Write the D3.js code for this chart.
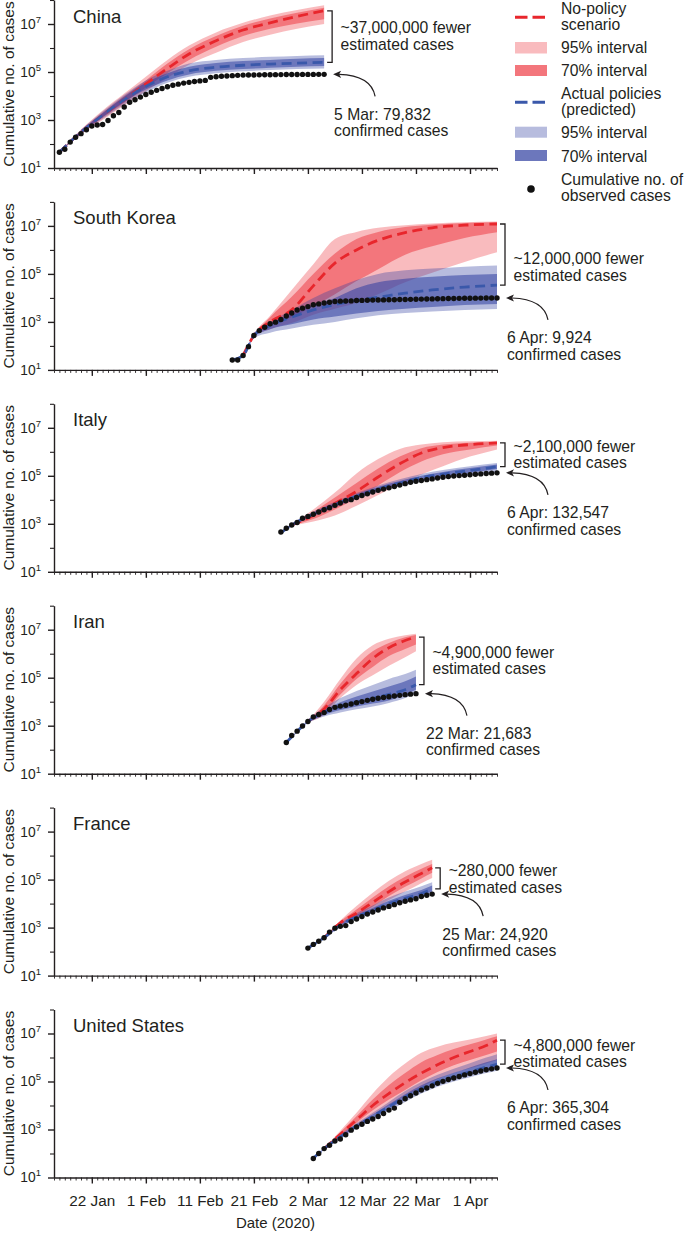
<!DOCTYPE html>
<html><head><meta charset="utf-8">
<script src="https://cdn.jsdelivr.net/npm/d3@7"></script>
<style>
body{margin:0;background:#fff}
svg{display:block}
text{font-family:"Liberation Sans",Arial,Helvetica,sans-serif;fill:#231f20}
</style>
</head><body>
<svg id="chart" width="685" height="1233"></svg>
<script>
// ---------------- DATA ----------------
const X_START = "2020-01-15", X_END = "2020-04-06";
const majorTickDates = ["2020-01-22","2020-02-01","2020-02-11","2020-02-21","2020-03-02","2020-03-12","2020-03-22","2020-04-01"];
const majorTickLabels = ["22 Jan","1 Feb","11 Feb","21 Feb","2 Mar","12 Mar","22 Mar","1 Apr"];
const yMajorTicks = [1e1, 1e3, 1e5, 1e7];
const yMinorTicks = [1e2, 1e4, 1e6, 1e8];
const countries = ["China","South Korea","Italy","Iran","France","United States"];
const fewerLabels = ["~37,000,000 fewer","~12,000,000 fewer","~2,100,000 fewer","~4,900,000 fewer","~280,000 fewer","~4,800,000 fewer"];
const confirmedLabels = ["5 Mar: 79,832","6 Apr: 9,924","6 Apr: 132,547","22 Mar: 21,683","25 Mar: 24,920","6 Apr: 365,304"];

// model rows: [date, mean, lo70, hi70, lo95, hi95]
const chinaNoPolicy = [
 ["2020-01-16",45,45,45,45,45],
 ["2020-01-20",316,282,355,251,398],
 ["2020-01-24",1580,1260,2000,1000,2510],
 ["2020-01-28",7080,5250,10000,3980,12600],
 ["2020-02-01",31600,22400,44700,15800,63100],
 ["2020-02-05",141000,89100,224000,56200,316000],
 ["2020-02-09",562000,316000,891000,200000,1260000],
 ["2020-02-14",2000000,1120000,3160000,631000,4470000],
 ["2020-02-19",5620000,3160000,8510000,1780000,11200000],
 ["2020-02-24",11200000,6310000,17000000,3550000,22400000],
 ["2020-02-29",20900000,10500000,29500000,6310000,38000000],
 ["2020-03-05",35500000,15800000,47900000,10000000,60300000]
];
const chinaActual = [
 ["2020-01-16",45,45,45,45,45],
 ["2020-01-20",316,288,347,263,380],
 ["2020-01-24",1580,1320,1910,1120,2240],
 ["2020-01-28",7080,5620,9330,4470,11200],
 ["2020-02-01",25100,18600,35500,14100,44700],
 ["2020-02-05",63100,44700,89100,35500,112000],
 ["2020-02-09",112000,79400,166000,63100,224000],
 ["2020-02-14",158000,112000,240000,89100,316000],
 ["2020-02-19",191000,132000,288000,107000,380000],
 ["2020-02-24",214000,151000,316000,120000,427000],
 ["2020-02-29",234000,166000,355000,132000,468000],
 ["2020-03-05",251000,178000,380000,141000,501000]
];
const chinaObsStart = "2020-01-16";
const chinaObserved = [45,60,120,190,270,390,560,620,650,950,1500,2050,3500,5500,7000,9000,
 11500,14300,17200,20400,24300,28000,31100,34500,37100,40100,42600,44600,59800,63800,66400,68500,70500,72400,74100,74500,75400,76200,76900,77100,77600,78000,78400,78800,79200,
 79300,79400,79500,79700,79832];

const koreaNoPolicy = [
 ["2020-02-19",40,40,40,40,40],
 ["2020-02-21",270,250,280,240,320],
 ["2020-02-24",1000,710,1580,500,1820],
 ["2020-02-28",3160,1580,11200,890,21400],
 ["2020-03-03",31600,4470,100000,2000,251000],
 ["2020-03-07",282000,14100,708000,3550,2820000],
 ["2020-03-11",1000000,50100,2820000,6310,5620000],
 ["2020-03-15",2510000,158000,5620000,14100,8320000],
 ["2020-03-20",5250000,631000,8910000,44700,10700000],
 ["2020-03-25",8320000,1410000,11200000,112000,12600000],
 ["2020-03-31",10700000,3160000,13200000,316000,14100000],
 ["2020-04-06",12000000,5500000,14100000,794000,15100000]
];
const koreaActual = [
 ["2020-02-17",26,26,27,25,28],
 ["2020-02-19",40,35,45,32,50],
 ["2020-02-21",270,240,295,214,316],
 ["2020-02-24",708,500,832,355,1000],
 ["2020-02-28",1580,794,2240,525,3160],
 ["2020-03-03",3160,1260,5010,759,10000],
 ["2020-03-07",5250,1660,10000,1000,25100],
 ["2020-03-11",7940,2240,25100,1410,56200],
 ["2020-03-15",10700,2820,44700,1910,100000],
 ["2020-03-20",15800,3550,63100,2340,141000],
 ["2020-03-25",21400,4170,75900,2690,166000],
 ["2020-03-31",28200,5010,89100,3160,200000],
 ["2020-04-06",33900,5620,100000,3470,224000]
];
const koreaObsStart = "2020-02-17";
const koreaObserved = [26,26,40,93,270,433,602,833,977,1261,1766,2337,3150,
 3736,4335,5186,5621,6088,6593,7041,7314,7478,7513,7755,7869,7979,8086,8162,8236,8320,8413,8565,8600,8700,8800,8900,9000,9100,9200,9300,9400,9480,9560,9620,
 9700,9760,9800,9850,9890,9924];

const italyNoPolicy = [
 ["2020-02-28",891,871,912,832,955],
 ["2020-03-03",2240,1580,3160,1260,3980],
 ["2020-03-07",7080,3980,12600,2240,20000],
 ["2020-03-11",22400,11200,50100,5620,126000],
 ["2020-03-15",89100,39800,200000,15800,501000],
 ["2020-03-19",316000,141000,631000,44700,1320000],
 ["2020-03-23",891000,398000,1410000,112000,2000000],
 ["2020-03-27",1510000,794000,2000000,251000,2510000],
 ["2020-04-01",2000000,1260000,2400000,631000,2750000],
 ["2020-04-06",2340000,1820000,2630000,1260000,2880000]
];
const italyActual = [
 ["2020-02-26",417,398,437,380,457],
 ["2020-02-28",891,832,955,794,1000],
 ["2020-03-03",2510,2240,2820,2000,3160],
 ["2020-03-07",6310,5500,7240,4790,8320],
 ["2020-03-11",14100,12000,16600,10500,19100],
 ["2020-03-15",28200,24000,33900,20900,39800],
 ["2020-03-19",50100,41700,60300,35500,72400],
 ["2020-03-23",83200,67600,100000,57500,120000],
 ["2020-03-27",117000,95500,145000,79400,174000],
 ["2020-04-01",166000,132000,209000,107000,251000],
 ["2020-04-06",240000,191000,295000,141000,339000]
];
const italyObsStart = "2020-02-26";
const italyObserved = [453,655,888,1128,
 1694,2036,2502,3089,3858,4636,5883,7375,9172,10149,12462,15113,17660,21157,24747,27980,31506,35713,41035,47021,53578,59138,63927,69176,74386,80589,86498,92472,97689,101739,105792,
 110574,115242,119827,124632,128948,132547];

const iranNoPolicy = [
 ["2020-03-02",1510,1480,1550,1450,1580],
 ["2020-03-05",5010,3550,7080,2820,10000],
 ["2020-03-08",31600,20000,56200,14100,89100],
 ["2020-03-11",148000,89100,316000,50100,631000],
 ["2020-03-14",631000,282000,1260000,126000,2240000],
 ["2020-03-17",1780000,794000,2820000,316000,4170000],
 ["2020-03-20",3550000,1580000,4790000,708000,5890000],
 ["2020-03-22",4950000,2400000,6030000,1260000,6760000]
];
const iranActual = [
 ["2020-02-27",200,195,204,191,209],
 ["2020-02-29",575,550,603,525,631],
 ["2020-03-02",1510,1380,1660,1260,1780],
 ["2020-03-05",3550,2820,4470,2400,5620],
 ["2020-03-08",6310,4470,9550,3550,14100],
 ["2020-03-11",9550,6310,16600,4790,28200],
 ["2020-03-14",13500,8320,26900,6310,50100],
 ["2020-03-17",20000,11200,42700,8910,89100],
 ["2020-03-20",31600,20000,70800,14100,141000],
 ["2020-03-22",51300,31600,112000,22900,214000]
];
const iranObsStart = "2020-02-27";
const iranObserved = [200,388,593,978,1501,2336,2922,3513,4747,5823,6566,7161,8042,9000,10075,11364,12729,13938,14991,16169,17361,18407,19644,20610,21683];

const franceNoPolicy = [
 ["2020-03-05",380,372,389,363,398],
 ["2020-03-08",1580,1410,1780,1260,2000],
 ["2020-03-11",3980,3020,5620,2510,7940],
 ["2020-03-14",11200,7590,17800,5620,28200],
 ["2020-03-17",31600,20900,52500,14100,89100],
 ["2020-03-20",79400,50100,132000,31600,224000],
 ["2020-03-23",178000,112000,282000,70800,447000],
 ["2020-03-25",309000,191000,447000,117000,676000]
];
const franceActual = [
 ["2020-03-02",141,138,145,135,148],
 ["2020-03-05",380,363,398,347,417],
 ["2020-03-08",1260,1150,1380,1070,1510],
 ["2020-03-11",2820,2510,3310,2240,3980],
 ["2020-03-14",5250,4470,6610,3980,8320],
 ["2020-03-17",10000,8320,13200,7080,17800],
 ["2020-03-20",16600,13500,22900,11200,31600],
 ["2020-03-23",26300,21400,37200,17800,52500],
 ["2020-03-25",40700,31600,56200,26300,77600]
];
const franceObsStart = "2020-03-02";
const franceObserved = [140,200,270,380,650,950,1130,1210,1780,2280,2870,3660,4480,5380,6630,7650,9040,10870,12610,14280,16020,19860,22300,24920];

const usNoPolicy = [
 ["2020-03-05",158,155,162,151,166],
 ["2020-03-08",631,525,759,447,891],
 ["2020-03-11",2510,1910,3550,1410,5010],
 ["2020-03-14",10000,6310,17800,3980,31600],
 ["2020-03-17",31600,17800,70800,10000,158000],
 ["2020-03-20",89100,44700,224000,25100,562000],
 ["2020-03-23",224000,112000,631000,56200,1580000],
 ["2020-03-26",501000,251000,1260000,126000,2820000],
 ["2020-03-29",1000000,479000,2240000,224000,4170000],
 ["2020-04-01",1780000,794000,3550000,355000,5620000],
 ["2020-04-04",3160000,1260000,5620000,562000,7940000],
 ["2020-04-06",5250000,1780000,7590000,794000,10000000]
];
const usActual = [
 ["2020-03-03",63,63,63,63,63],
 ["2020-03-05",158,148,166,141,178],
 ["2020-03-08",501,447,562,398,631],
 ["2020-03-11",1410,1230,1620,1070,1860],
 ["2020-03-14",3550,2950,4170,2510,5010],
 ["2020-03-17",8910,7240,11200,6030,14100],
 ["2020-03-20",22400,17800,29500,14100,39800],
 ["2020-03-23",50100,39800,69200,31600,95500],
 ["2020-03-26",95500,75900,135000,60300,191000],
 ["2020-03-29",158000,126000,229000,100000,339000],
 ["2020-04-01",251000,195000,380000,151000,575000],
 ["2020-04-04",398000,295000,631000,224000,1000000],
 ["2020-04-06",525000,380000,851000,282000,1380000]
];
const usObsStart = "2020-03-03";
const usObserved = [62,100,160,220,330,400,600,940,1280,1660,2180,2730,3500,4630,6420,7790,13680,19100,25490,33270,43850,53740,65780,83840,101660,121480,140890,161810,188170,
 213370,243450,275590,308850,337070,365304];

// ---------------- LAYOUT ----------------
const L = 54, R = 497, PH = 168, STEP = 201.9, B0 = 168;
const fewerDy = [-3.2, 9.7, -3.3, -3, -2, -1.7];
const INK = "#231f20";
const RED = "rgb(236,36,44)", BLUE = "rgb(48,62,160)";
const RED_LINE = "#e8262c", BLUE_LINE = "#3a58aa";
const FONT = "15.7px";

const parse = d3.utcParse("%Y-%m-%d");
const svg = d3.select("#chart");
const x = d3.scaleUtc().domain([parse(X_START), parse(X_END)]).range([L, R]);

const modelSets = [
  [chinaNoPolicy, chinaActual, chinaObsStart, chinaObserved],
  [koreaNoPolicy, koreaActual, koreaObsStart, koreaObserved],
  [italyNoPolicy, italyActual, italyObsStart, italyObserved],
  [iranNoPolicy, iranActual, iranObsStart, iranObserved],
  [franceNoPolicy, franceActual, franceObsStart, franceObserved],
  [usNoPolicy, usActual, usObsStart, usObserved]
];
const toRow = r => ({date: parse(r[0]), mean: r[1], lo70: r[2], hi70: r[3], lo95: r[4], hi95: r[5]});

countries.forEach((name, i) => {
  const [npRaw, actRaw, obsStart, obsVals] = modelSets[i];
  const bottom = B0 + STEP * i, top = bottom - PH;
  const y = d3.scaleLog().domain([1e1, 1e8]).range([bottom, top]);
  const g = svg.append("g");
  const np = npRaw.map(toRow), act = actRaw.map(toRow);
  const band = (lo, hi) => d3.area().x(d => x(d.date)).y0(d => y(d[lo])).y1(d => y(d[hi])).curve(d3.curveMonotoneX);
  const line = d3.line().x(d => x(d.date)).y(d => y(d.mean)).curve(d3.curveMonotoneX);

  g.append("path").datum(np).attr("d", band("lo95","hi95")).attr("fill", RED).attr("fill-opacity", 0.31);
  g.append("path").datum(np).attr("d", band("lo70","hi70")).attr("fill", RED).attr("fill-opacity", 0.45);
  g.append("path").datum(act).attr("d", band("lo95","hi95")).attr("fill", BLUE).attr("fill-opacity", 0.35);
  g.append("path").datum(act).attr("d", band("lo70","hi70")).attr("fill", BLUE).attr("fill-opacity", 0.55);
  g.append("path").datum(np).attr("d", line).attr("fill","none").attr("stroke", RED_LINE)
    .attr("stroke-width", 2.8).attr("stroke-dasharray","10,5.5");
  g.append("path").datum(act).attr("d", line).attr("fill","none").attr("stroke", BLUE_LINE)
    .attr("stroke-width", 2.8).attr("stroke-dasharray","10,5.5");

  const start = parse(obsStart);
  const obs = obsVals.map((v, k) => ({date: d3.utcDay.offset(start, k), v}));
  g.selectAll("circle.obs").data(obs).join("circle").attr("class","obs")
    .attr("cx", d => x(d.date)).attr("cy", d => y(d.v)).attr("r", 2.7).attr("fill", "#111");

  // axes
  const xMinor = g.append("g").attr("transform", `translate(0,${bottom})`)
    .call(d3.axisBottom(x).ticks(d3.utcDay.every(1)).tickSize(3).tickSizeOuter(0).tickFormat(""));
  xMinor.attr("color", INK);
  xMinor.select(".domain").attr("stroke-width", 1.4);
  xMinor.selectAll(".tick line").attr("stroke-width", 0.9);
  const xMajor = g.append("g").attr("transform", `translate(0,${bottom})`)
    .call(d3.axisBottom(x).tickValues(majorTickDates.map(parse)).tickSize(6).tickSizeOuter(0).tickPadding(12)
      .tickFormat((d, k) => i === countries.length - 1 ? majorTickLabels[k] : ""));
  xMajor.attr("color", INK);
  xMajor.select(".domain").remove();
  xMajor.selectAll(".tick line").attr("stroke-width", 1.4);
  xMajor.selectAll(".tick text").attr("font-size", "15.3px").attr("fill", INK);

  const yMajor = g.append("g").attr("transform", `translate(${L},0)`)
    .call(d3.axisLeft(y).tickValues(yMajorTicks).tickSize(6).tickSizeOuter(0).tickPadding(7).tickFormat(() => ""));
  yMajor.attr("color", INK);
  yMajor.select(".domain").attr("stroke-width", 1.4);
  yMajor.selectAll(".tick line").attr("stroke-width", 1.4);
  yMajor.selectAll(".tick text").attr("font-size", "13.8px").attr("fill", INK).each(function(d) {
    const t = d3.select(this);
    t.append("tspan").text("10");
    t.append("tspan").attr("dy", "-6").attr("font-size", "9.5px").text(Math.round(Math.log10(d)));
  });
  const yMin = g.append("g").attr("transform", `translate(${L},0)`)
    .call(d3.axisLeft(y).tickValues(yMinorTicks).tickSize(4).tickSizeOuter(0).tickFormat(() => ""));
  yMin.attr("color", INK);
  yMin.select(".domain").remove();
  yMin.selectAll(".tick line").attr("stroke-width", 1.1);

  g.append("text").attr("transform", `translate(13.5,${(top + bottom) / 2}) rotate(-90)`)
    .attr("text-anchor", "middle").attr("font-size", "15.5px").text("Cumulative no. of cases");
  g.append("text").attr("x", 73).attr("y", top + 22.5).attr("font-size", "18.5px").text(name);

  // annotations
  const lastNp = np[np.length - 1], lastAct = act[act.length - 1], lastObs = obs[obs.length - 1];
  const xEnd = x(lastNp.date);
  const bx = xEnd + 8, y1 = y(lastNp.mean), y2 = y(lastAct.mean);
  g.append("path").attr("d", `M${bx - 5},${y1}H${bx}V${y2}H${bx - 5}`)
    .attr("fill", "none").attr("stroke", INK).attr("stroke-width", 1.3);
  const mid = (y1 + y2) / 2 + fewerDy[i];
  const ft = g.append("text").attr("x", bx + 8.5).attr("y", mid).attr("font-size", FONT);
  ft.append("tspan").attr("x", bx + 8.5).text(fewerLabels[i]);
  ft.append("tspan").attr("x", bx + 8.5).attr("dy", 16.6).text("estimated cases");

  const oy = y(lastObs.v), ox = x(lastObs.date);
  const hx = ox + 9, tx = ox + 51, ty = oy + 22;
  g.append("path").attr("d", `M${tx},${ty}Q${tx - 4},${oy + 1} ${hx + 6},${oy}`)
    .attr("fill", "none").attr("stroke", INK).attr("stroke-width", 1.2);
  g.append("path").attr("d", `M${hx},${oy}L${hx + 8},${oy - 3.6}L${hx + 6},${oy}L${hx + 8},${oy + 3.6}Z`).attr("fill", INK);
  const ct = g.append("text").attr("x", ox + 10).attr("y", oy + 45.5).attr("font-size", FONT);
  ct.append("tspan").attr("x", ox + 10).text(confirmedLabels[i]);
  ct.append("tspan").attr("x", ox + 10).attr("dy", 16.3).text("confirmed cases");
});

svg.append("text").attr("x", (L + R) / 2).attr("y", 1227.5).attr("text-anchor", "middle")
  .attr("font-size", "15px").text("Date (2020)");

// ---------------- LEGEND ----------------
const lg = svg.append("g");
const LX = 515, TX = 561;
lg.append("line").attr("x1", LX).attr("x2", LX + 31).attr("y1", 17.3).attr("y2", 17.3)
  .attr("stroke", RED_LINE).attr("stroke-width", 3).attr("stroke-dasharray", "12.5,5");
lg.append("rect").attr("x", LX).attr("y", 42).attr("width", 32).attr("height", 11.5).attr("fill", RED).attr("fill-opacity", 0.31);
lg.append("rect").attr("x", LX).attr("y", 65).attr("width", 32).attr("height", 11).attr("fill", RED).attr("fill-opacity", 0.31);
lg.append("rect").attr("x", LX).attr("y", 65).attr("width", 32).attr("height", 11).attr("fill", RED).attr("fill-opacity", 0.45);
lg.append("line").attr("x1", LX).attr("x2", LX + 31).attr("y1", 102.3).attr("y2", 102.3)
  .attr("stroke", BLUE_LINE).attr("stroke-width", 3).attr("stroke-dasharray", "12.5,5");
lg.append("rect").attr("x", LX).attr("y", 126.7).attr("width", 32).attr("height", 11).attr("fill", BLUE).attr("fill-opacity", 0.35);
lg.append("rect").attr("x", LX).attr("y", 150).attr("width", 32).attr("height", 11).attr("fill", BLUE).attr("fill-opacity", 0.35);
lg.append("rect").attr("x", LX).attr("y", 150).attr("width", 32).attr("height", 11).attr("fill", BLUE).attr("fill-opacity", 0.55);
lg.append("circle").attr("cx", 531).attr("cy", 189).attr("r", 3.8).attr("fill", "#111");
const legendTexts = [
  ["No-policy", 13.5], ["scenario", 29.5], ["95% interval", 53.3], ["70% interval", 76],
  ["Actual policies", 98.8], ["(predicted)", 114.8], ["95% interval", 138.3], ["70% interval", 161.7],
  ["Cumulative no. of", 185], ["observed cases", 201]
];
lg.selectAll("text").data(legendTexts).join("text").attr("x", TX).attr("y", d => d[1])
  .attr("font-size", FONT).text(d => d[0]);
</script>
</body></html>
